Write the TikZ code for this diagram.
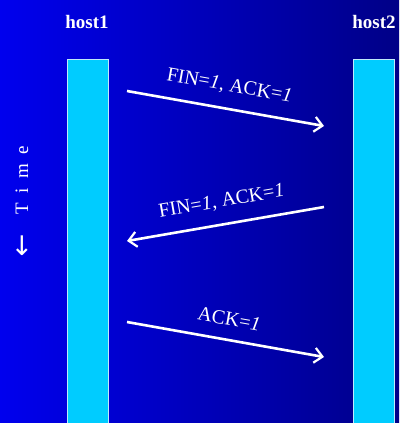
\documentclass[tikz,border=0pt]{standalone}
\usepackage{fontspec}
\setmainfont{Liberation Serif}
\newfontfamily\arrowfont{DejaVu Sans}
\usetikzlibrary{arrows.meta,positioning}

\definecolor{bgleft}{RGB}{0,0,238}
\definecolor{bgright}{RGB}{0,0,135}
\definecolor{barcyan}{RGB}{0,204,255}

\begin{document}
\begin{tikzpicture}[x=1pt,y=-1pt]
    % Stili
    \tikzstyle{host}=[text=white, font=\fontsize{19}{21}\selectfont\bfseries, inner sep=0pt]
    \tikzstyle{lifeline}=[fill=barcyan, draw=white!75!cyan, line width=0.8pt]
    \tikzstyle{msg}=[-{Straight Barb[length=8pt,width=15pt,line width=2.2pt]}, line width=2.6pt, white]
    \tikzstyle{msglabel}=[text=white, font=\fontsize{20}{22}\selectfont, sloped, above=13pt, inner sep=0pt]

    % Sfondo sfumato
    \shade[left color=bgleft, right color=bgright] (0,0) rectangle (399,423);
    \useasboundingbox (0,0) rectangle (399,423);

    % Host
    \node[host] (host1) at (87,22) {host1};
    \node[host] (host2) at (374,22) {host2};

    % Linee temporali
    \draw[lifeline] (67,59) rectangle (108,430);
    \draw[lifeline] (353,59) rectangle (394,430);

    % Asse del tempo
    \node[text=white, rotate=90, font=\fontsize{19}{21}\selectfont] (time) at (22,180) {T\,\,\,i\,\,\,m\,\,\,e};
    \node[text=white, font=\arrowfont\fontsize{27}{29}\selectfont] (down) at (22,246) {↓};

    % Estremi dei messaggi
    \coordinate (a1) at (127,91);
    \coordinate (b1) at (324,126);
    \coordinate (a2) at (324,207);
    \coordinate (b2) at (127,241);
    \coordinate (a3) at (127,322);
    \coordinate (b3) at (324,357);

    % Messaggi
    \draw[msg] (a1) -- node[msglabel] {FIN=\textit{1}, ACK=\textit{1}} (b1);
    \draw[msg] (a2) -- node[msglabel] {FIN=\textit{1}, ACK=\textit{1}} (b2);
    \draw[msg] (a3) -- node[msglabel] {ACK=\textit{1}} (b3);
\end{tikzpicture}
\end{document}
